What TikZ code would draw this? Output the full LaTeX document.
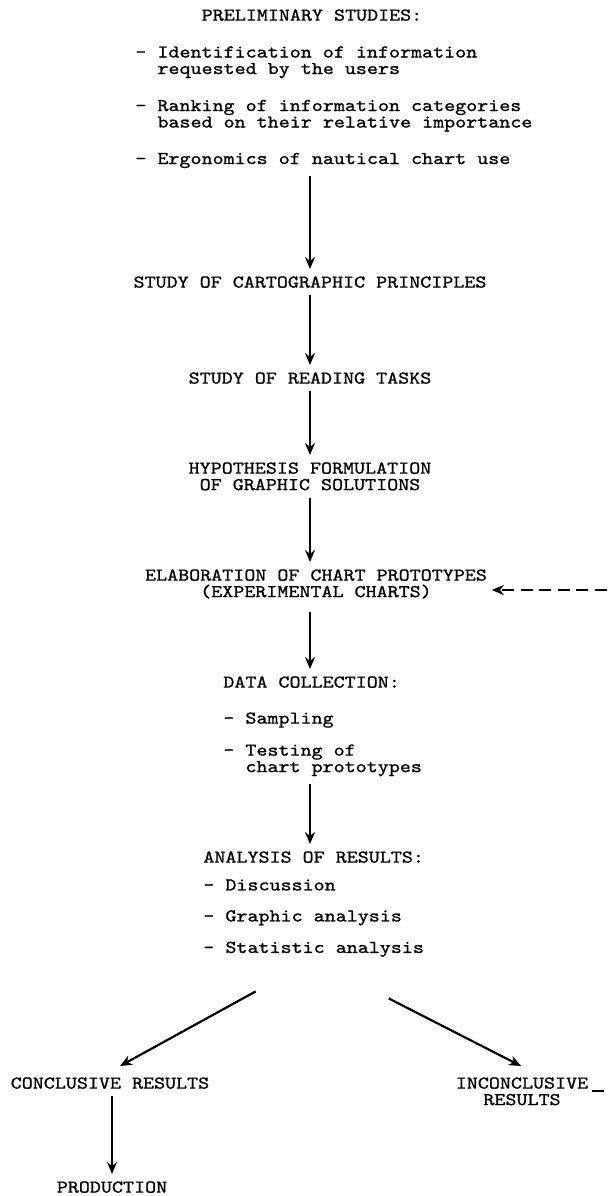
\documentclass[tikz,border=0pt]{standalone}
\usepackage{fontspec}
\setmonofont{lmmono10-regular.otf}[FakeStretch=1.167, FakeBold=1]
\usepackage{tikz}
\usetikzlibrary{arrows.meta}

\newcommand\indt{\hphantom{- }}
\newcommand\chartfont{\ttfamily\fontsize{9}{8.25}\selectfont\lineskiplimit=-20pt\relax}

\begin{document}
\begin{tikzpicture}[x=0.5pt, y=-0.5pt,
    txt/.style={font=\chartfont, inner xsep=0pt, inner ysep=3.5pt},
    flow/.style={line width=1.3pt, -{Stealth[length=6pt, width=5pt]}},
    back/.style={line width=1pt, dash pattern=on 6pt off 3.3pt}]
    \useasboundingbox (0,0) rectangle (607,1196);

    \node[txt, anchor=north] (prelim) at (312,2) {PRELIMINARY STUDIES:};
    \node[txt, anchor=north west, align=left] (plist) at (135,39)
      {- Identification of information\\\indt requested by the users\\[10.25pt]
       - Ranking of information categories\\\indt based on their relative importance\\[10pt]
       - Ergonomics of nautical chart use};
    \node[txt, anchor=north] (cart) at (310,269) {STUDY OF CARTOGRAPHIC PRINCIPLES};
    \node[txt, anchor=north] (reading) at (310,365) {STUDY OF READING TASKS};
    \node[txt, anchor=north, align=center] (hypo) at (310,455) {HYPOTHESIS FORMULATION\\OF GRAPHIC SOLUTIONS};
    \node[txt, anchor=north, align=center] (elab) at (316,562) {ELABORATION OF CHART PROTOTYPES\\(EXPERIMENTAL CHARTS)};
    \node[txt, anchor=north west] (data) at (223,669) {DATA COLLECTION:};
    \node[txt, anchor=north west, align=left] (dlist) at (223,705)
      {- Sampling\\[7.75pt]- Testing of\\\indt chart prototypes};
    \node[txt, anchor=north west] (analysis) at (203,844) {ANALYSIS OF RESULTS:};
    \node[txt, anchor=north west, align=left] (alist) at (203,872)
      {- Discussion\\[7.25pt]- Graphic analysis\\[7.5pt]- Statistic analysis};
    \node[txt, anchor=north] (concl) at (110,1070) {CONCLUSIVE RESULTS};
    \node[txt, anchor=north, align=center] (incl) at (522,1070) {INCONCLUSIVE\\RESULTS};
    \node[txt, anchor=north] (prod) at (112,1174) {PRODUCTION};

    \coordinate (back1) at (607,590);
    \coordinate (back2a) at (592,1091);
    \coordinate (back2b) at (607,1091);

    \draw[flow] (plist.south -| cart.north) -- (cart.north);
    \draw[flow] (cart) -- (reading);
    \draw[flow] (reading) -- (hypo);
    \draw[flow] (hypo.south) -- (hypo.south |- elab.north);
    \draw[flow, shorten <=3pt] (elab.south -| cart) -- (data.north -| cart);
    \draw[flow] (dlist.south -| cart) -- (analysis.north -| cart);
    \draw[flow, line width=1.1pt] ([shift={(-58,27)}]alist.south) -- ([shift={(10,-4)}]concl.north);
    \draw[flow, line width=1.1pt] ([shift={(75,34)}]alist.south) -- ([shift={(-1,-4)}]incl.north);
    \draw[flow] (concl.south -| prod) -- (prod);

    \draw[back, -{Stealth[length=6pt, width=5pt]}, shorten >=2.25pt] (back1) -- (back1 -| elab.east);
    \draw[back] (back2a) -- (back2b);
\end{tikzpicture}
\end{document}
